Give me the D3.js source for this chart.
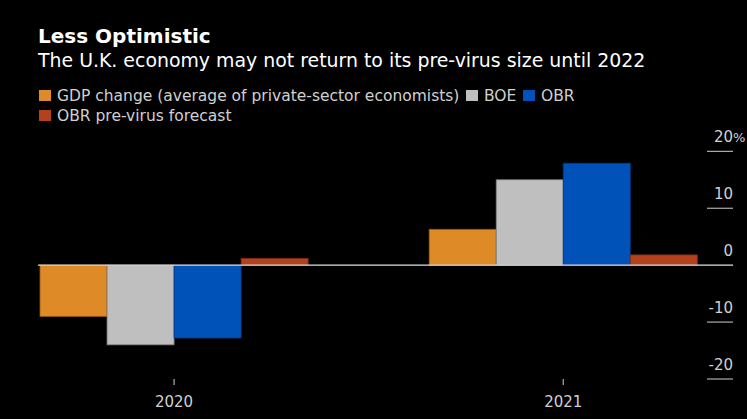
<!DOCTYPE html>
<html><head><meta charset="utf-8">
<script src="https://cdn.jsdelivr.net/npm/d3@7"></script>
<style>html,body{margin:0;padding:0;background:#000;}svg{display:block;}</style>
</head><body>
<script>
const years = ["2020", "2021"];
const seriesNames = ["GDP change (average of private-sector economists)", "BOE", "OBR", "OBR pre-virus forecast"];
const gdpPrivate = [-9.0, 6.3];
const boe = [-14.0, 15.0];
const obr = [-12.8, 17.9];
const obrPreVirus = [1.2, 1.8];
const yTicks = [-20, -10, 0, 10, 20];
const colors = ["#DD8A27", "#BFBFBF", "#0052B8", "#B4411E"];
const strokes = ["#9a5a12", "#7a7a7a", "#003a85", "#7e2a10"];

const W = 747, H = 419;
const svg = d3.select("body").append("svg").attr("width", W).attr("height", H).style("background", "#000");
const font = "DejaVu Sans, Verdana, sans-serif";

svg.append("text").attr("x", 38).attr("y", 43).text("Less Optimistic")
  .attr("fill", "#fff").attr("font-family", font).attr("font-weight", "bold").attr("font-size", 20);
svg.append("text").attr("x", 38).attr("y", 67).text("The U.K. economy may not return to its pre-virus size until 2022")
  .attr("fill", "#fff").attr("font-family", font).attr("font-size", 18.9);

// legend
const legendItems = [
  {name: seriesNames[0], c: 0, x: 39, y: 90},
  {name: seriesNames[1], c: 1, x: 466, y: 90},
  {name: seriesNames[2], c: 2, x: 523, y: 90},
  {name: seriesNames[3], c: 3, x: 39, y: 110}
];
const lg = svg.append("g");
legendItems.forEach(d => {
  lg.append("rect").attr("x", d.x).attr("y", d.y).attr("width", 12).attr("height", 11).attr("fill", colors[d.c]);
  lg.append("text").attr("x", d.x + 18).attr("y", d.y + 11).text(d.name)
    .attr("fill", "#d0d0d0").attr("font-family", font).attr("font-size", 15.5);
});

const y = d3.scaleLinear().domain([-20, 20]).range([379, 151.3]);
const x = d3.scaleBand().domain(years).range([40, 697.3]).paddingInner(0.311).paddingOuter(0);
const xs = d3.scaleBand().domain(d3.range(4)).range([0, x.bandwidth()]);

// y axis ticks on right
const ya = svg.append("g");
yTicks.forEach(t => {
  if (t !== 0) ya.append("line").attr("x1", 707).attr("x2", 733).attr("y1", y(t)).attr("y2", y(t))
    .attr("stroke", "#d0d0d0").attr("stroke-width", 1);
  ya.append("text").attr("x", 733).attr("y", y(t) - 9).attr("text-anchor", "end")
    .text(t < 0 ? "-" + Math.abs(t) : t).attr("fill", "#d0d0d0").attr("font-family", font).attr("font-size", 15);
  if (t === 20) ya.append("text").attr("x", 733).attr("y", y(t) - 9).text("%")
    .attr("fill", "#d0d0d0").attr("font-family", font).attr("font-size", 13);
});

const data = [gdpPrivate, boe, obr, obrPreVirus];
const bars = svg.append("g");
years.forEach((yr, i) => {
  data.forEach((s, j) => {
    const v = s[i];
    bars.append("rect")
      .attr("x", x(yr) + xs(j)).attr("width", xs.bandwidth())
      .attr("y", y(Math.max(0, v))).attr("height", Math.abs(y(v) - y(0)))
      .attr("fill", colors[j]).attr("stroke", strokes[j]).attr("stroke-width", 0.8);
  });
});

// zero line
svg.append("line").attr("x1", 38).attr("x2", 733).attr("y1", y(0)).attr("y2", y(0))
  .attr("stroke", "#e0e0e0").attr("stroke-width", 1.2);

// x axis
const xa = svg.append("g");
years.forEach(yr => {
  const cx = x(yr) + x.bandwidth() / 2;
  xa.append("line").attr("x1", cx).attr("x2", cx).attr("y1", 379).attr("y2", 385).attr("stroke", "#d0d0d0");
  xa.append("text").attr("x", cx).attr("y", 407).attr("text-anchor", "middle").text(yr)
    .attr("fill", "#d0d0d0").attr("font-family", font).attr("font-size", 15);
});
</script>
</body></html>
